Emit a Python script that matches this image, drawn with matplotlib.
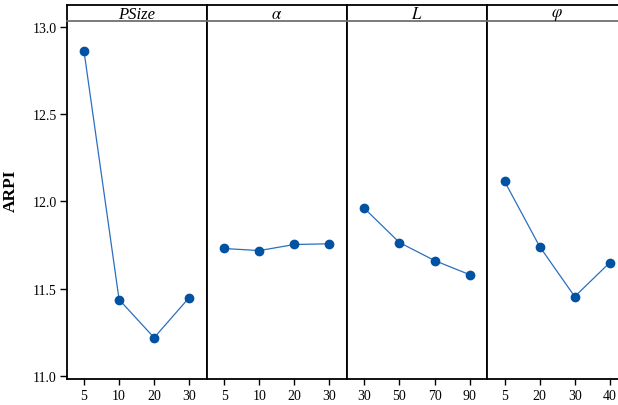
import numpy as np
import matplotlib
matplotlib.use('Agg')
import matplotlib.pyplot as plt

plt.rcParams['font.family'] = ['Liberation Serif', 'DejaVu Serif']
plt.rcParams['mathtext.fontset'] = 'stix'

# factor names and levels
factors = ['PSize', r'$\alpha$', r'$L$', r'$\varphi$']
psize_levels = ['5', '10', '20', '30']
alpha_levels = ['5', '10', '20', '30']
l_levels = ['30', '50', '70', '90']
phi_levels = ['5', '20', '30', '40']

# mean ARPI per level
psize_means = [12.862, 11.437, 11.218, 11.448]
alpha_means = [11.730, 11.718, 11.753, 11.757]
l_means = [11.960, 11.764, 11.661, 11.580]
phi_means = [12.115, 11.741, 11.454, 11.649]

levels = [psize_levels, alpha_levels, l_levels, phi_levels]
means = [psize_means, alpha_means, l_means, phi_means]

W, H = 618, 406
fig = plt.figure(figsize=(W / 100, H / 100), dpi=100)

left_px = 66.5
panel_w = 140.2
top_px = 22.3
bot_px = 380.0
strip_h = 16.3

for i in range(4):
    x0 = (left_px + i * panel_w) / W
    ax = fig.add_axes([x0, (H - bot_px) / H, panel_w / W, (bot_px - top_px) / H])
    x = np.arange(len(levels[i]))
    ax.plot(x, means[i], '-', color='#2a6fc0', lw=0.9, zorder=2)
    ax.plot(x, means[i], 'o', color='#0152a3', ms=6, zorder=3)
    ax.set_xlim(-0.5, 3.5)
    ax.set_ylim(10.981, 13.034)
    ax.set_xticks(x)
    ax.set_xticklabels(levels[i], fontsize=10)
    ax.tick_params(axis='x', length=4, width=1, pad=3)
    ax.spines['top'].set_visible(False)
    for s in ['left', 'right', 'bottom']:
        ax.spines[s].set_linewidth(1.3)
    if i == 0:
        ax.set_yticks([11.0, 11.5, 12.0, 12.5, 13.0])
        ax.set_yticklabels(['11.0', '11.5', '12.0', '12.5', '13.0'], fontsize=10)
        ax.tick_params(axis='y', length=5, width=1, pad=2)
        ax.set_ylabel('ARPI', fontsize=12.5, fontweight='bold')
        ax.yaxis.set_label_coords(-0.342, 0.53)
    else:
        ax.set_yticks([])

    # strip header
    sa = fig.add_axes([x0, (H - top_px) / H, panel_w / W, strip_h / H])
    sa.set_xticks([])
    sa.set_yticks([])
    sa.set_xlim(0, 1)
    sa.set_ylim(0, 1)
    for s in ['top', 'left', 'right']:
        sa.spines[s].set_linewidth(1.3)
    sa.spines['bottom'].set_color('#707070')
    sa.spines['bottom'].set_linewidth(1.3)
    sa.text(0.5, 0.45, factors[i], ha='center', va='center', fontsize=12,
            fontstyle='italic')

fig.savefig('out.png', dpi=100)
